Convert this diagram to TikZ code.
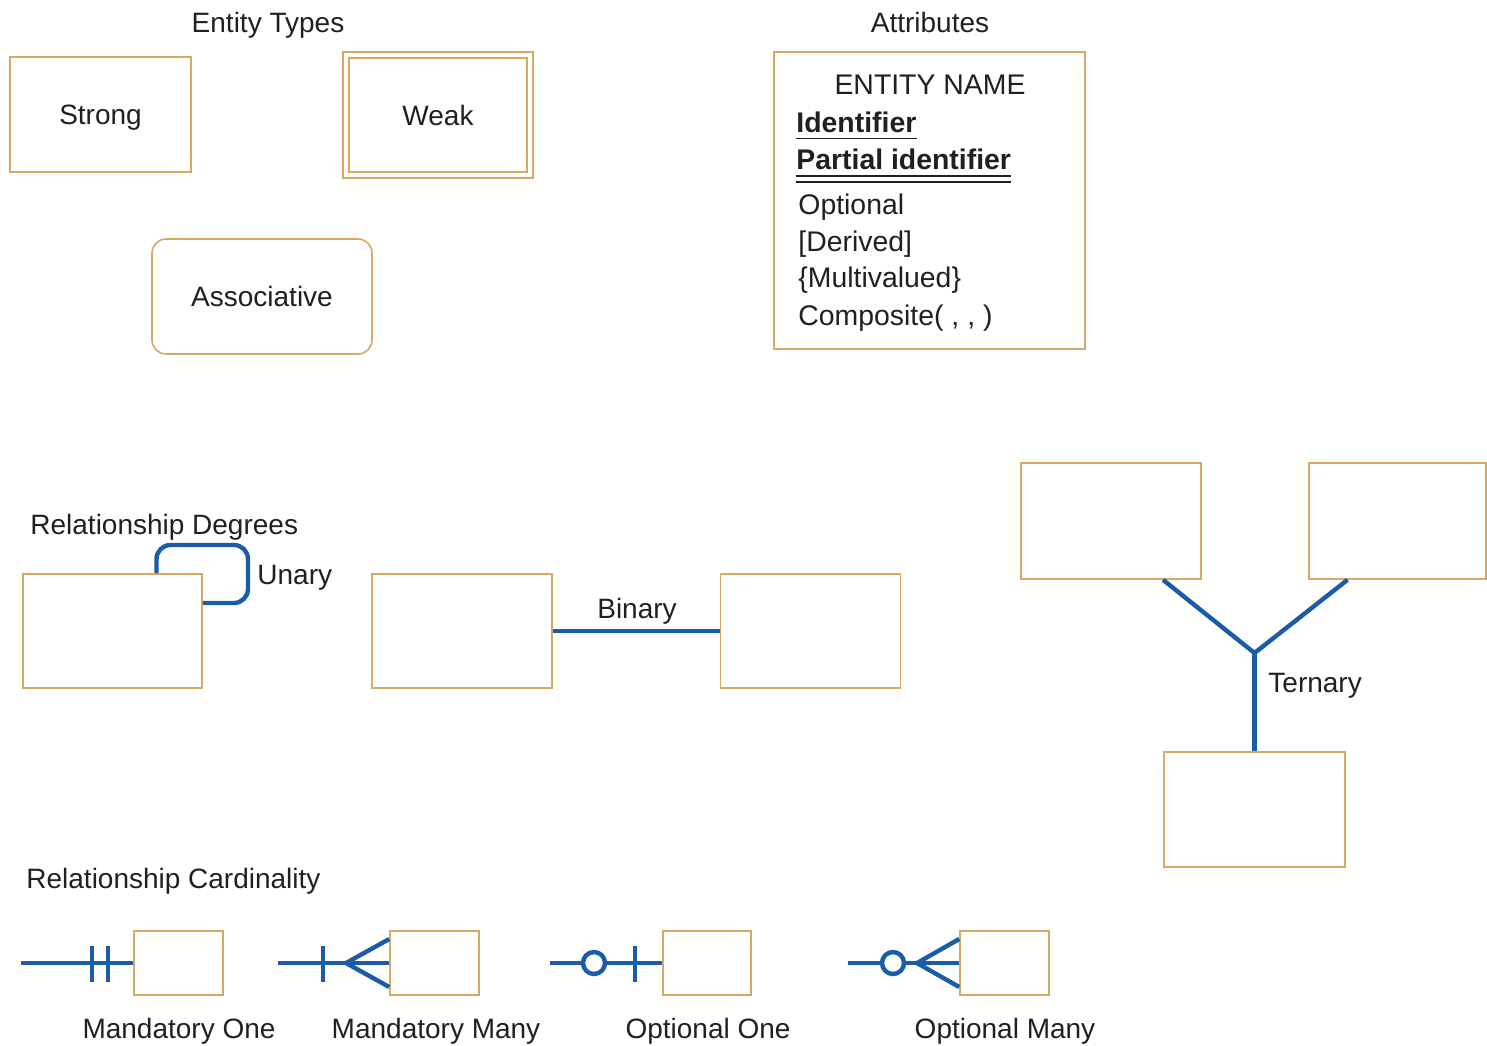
\documentclass[tikz,border=0pt]{standalone}
\usepackage{fontspec}
\setmainfont{Liberation Sans}
\usetikzlibrary{calc}
\definecolor{tanc}{HTML}{D6A964}
\definecolor{relblue}{HTML}{1A5CA8}
\definecolor{txt}{HTML}{231F20}
\begin{document}
\begin{tikzpicture}[x=0.5pt,y=-0.5pt,
  every node/.style={text=txt,font=\fontsize{14}{17}\selectfont},
  lbl/.style={inner sep=0pt},
  ebox/.style={draw=tanc,line width=0.8pt,fill=white,inner sep=0pt,text height=10pt,text depth=0pt},
  rel/.style={draw=relblue,line width=2.2pt},
  ring/.style={circle,draw=relblue,line width=2.2pt,fill=white,minimum size=11pt,inner sep=0pt}]
\useasboundingbox (0,0) rectangle (1487,1045);

% ---------- Entity types ----------
\node[lbl,anchor=base] (ttl1) at (268,32) {Entity Types};
\node[ebox,minimum width=90.5pt,minimum height=57.5pt] (strong) at (100.5,114.5) {Strong};
\node[ebox,minimum width=95pt,minimum height=63pt] (weak) at (438,115) {Weak};
\draw[tanc,line width=0.8pt] ([shift={(3.5pt,-3.5pt)}]weak.north west) rectangle ([shift={(-3.5pt,3.5pt)}]weak.south east);
\node[ebox,rounded corners=7pt,minimum width=110pt,minimum height=57.5pt] (assoc) at (262,296.5) {Associative};

% ---------- Attributes ----------
\node[lbl,anchor=base] (ttl2) at (930,32) {Attributes};
\node[ebox,minimum width=155.5pt,minimum height=148.5pt] (attr) at (929.5,200.5) {};
\begin{scope}[every node/.style={text=txt,font=\fontsize{14.2}{17}\selectfont}]
\node[lbl,anchor=base] (ename) at (930,94) {ENTITY NAME};
\node[lbl,anchor=base west] (ident) at (796,132) {\bfseries Identifier};
\node[lbl,anchor=base west] (pident) at (796,169) {\bfseries Partial identifier};
\node[lbl,anchor=base west] (opt) at (798,214) {Optional};
\node[lbl,anchor=base west] (der) at (798,251) {[Derived]};
\node[lbl,anchor=base west] (mv) at (798,287) {\{Multivalued\}};
\node[lbl,anchor=base west] (comp) at (798,325) {Composite( , , )};
\end{scope}
\draw[txt,line width=0.7pt] ([yshift=-3.3pt]ident.base west) -- ([yshift=-3.3pt]ident.base east);
\draw[txt,line width=0.7pt] ([yshift=-3.5pt]pident.base west) -- ([yshift=-3.5pt]pident.base east);
\draw[txt,line width=0.7pt] ([yshift=-6.5pt]pident.base west) -- ([yshift=-6.5pt]pident.base east);

% ---------- Relationship degrees ----------
\node[lbl,anchor=base west] (ttl3) at (30,534) {Relationship Degrees};
\node[ebox,minimum width=89.5pt,minimum height=57pt] (un) at (112.5,631) {};
\draw[rel,rounded corners=7pt] ([xshift=22pt]un.north) |- (248,545) |- ([yshift=14pt]un.east);
\node[lbl,anchor=base west] (unl) at (257,584) {Unary};

\node[ebox,minimum width=90pt,minimum height=57pt] (b1) at (462,631) {};
\node[ebox,minimum width=90pt,minimum height=57pt] (b2) at (810.5,631) {};
\draw[rel] (b1.east) -- (b2.west);
\node[lbl,anchor=base] (binl) at (637,618) {Binary};

\node[ebox,minimum width=90pt,minimum height=58pt] (ta) at (1111,521) {};
\node[ebox,minimum width=88.5pt,minimum height=58pt] (tb) at (1397.5,521) {};
\node[ebox,minimum width=90.5pt,minimum height=57.5pt] (tc) at (1254.5,809.5) {};
\coordinate (tj) at (1254.5,653);
\draw[rel] ([xshift=26pt]ta.south) -- (tj);
\draw[rel] ([xshift=-25pt]tb.south) -- (tj);
\draw[rel] (tj) -- (tc.north);
\node[lbl,anchor=base west] (terl) at (1268,692) {Ternary};

% ---------- Relationship cardinality ----------
\node[lbl,anchor=base west] (ttl4) at (26,888) {Relationship Cardinality};

% Mandatory one
\node[ebox,minimum width=44.5pt,minimum height=32pt] (c1) at (178.5,963) {};
\coordinate (s1) at (21,963);
\draw[rel] (s1) -- (c1.west);
\draw[rel] (92,946) -- (92,982);
\draw[rel] (108,946) -- (108,982);
\node[lbl,anchor=base] (l1) at (179,1038) {Mandatory One};

% Mandatory many
\node[ebox,minimum width=44.5pt,minimum height=32pt] (c2) at (434.5,963) {};
\coordinate (s2) at (278,963);
\coordinate (j2) at (346,963);
\draw[rel] (s2) -- (c2.west);
\draw[rel] (323,946) -- (323,982);
\draw[rel] ([yshift=12pt]c2.west) -- (j2) -- ([yshift=-12pt]c2.west);
\node[lbl,anchor=base] (l2) at (436,1038) {Mandatory Many};

% Optional one
\node[ebox,minimum width=44pt,minimum height=32pt] (c3) at (707,963) {};
\coordinate (s3) at (550,963);
\draw[rel] (s3) -- (c3.west);
\draw[rel] (635,946) -- (635,982);
\node[ring] (o3) at (594,963) {};
\node[lbl,anchor=base] (l3) at (708,1038) {Optional One};

% Optional many
\node[ebox,minimum width=44.5pt,minimum height=32pt] (c4) at (1004.5,963) {};
\coordinate (s4) at (848,963);
\coordinate (j4) at (917,963);
\draw[rel] (s4) -- (c4.west);
\draw[rel] ([yshift=12pt]c4.west) -- (j4) -- ([yshift=-12pt]c4.west);
\node[ring] (o4) at (893,963) {};
\node[lbl,anchor=base] (l4) at (1005,1038) {Optional Many};
\end{tikzpicture}
\end{document}
